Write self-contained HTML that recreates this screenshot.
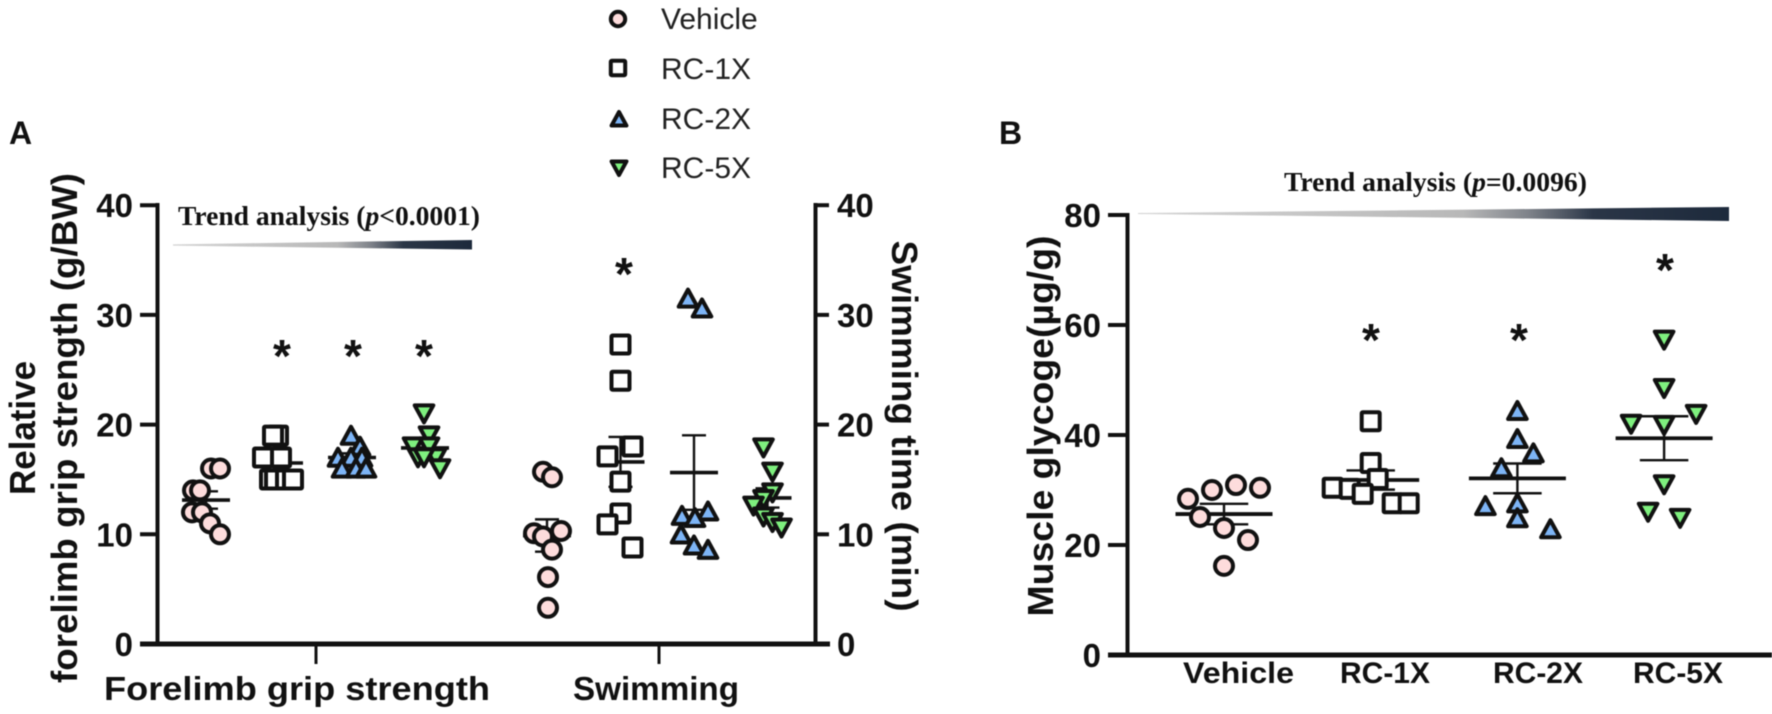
<!DOCTYPE html>
<html lang="en">
<head>
<meta charset="utf-8">
<title>Forelimb grip strength, swimming time and muscle glycogen</title>
<style>
html,body{margin:0;padding:0;background:#fff;}
svg{display:block;font-family:"Liberation Sans",Arial,sans-serif;filter:blur(0.4px);}
.bold{font-weight:bold;fill:#111;}
.trend{font-family:"Liberation Serif","Times New Roman",serif;font-weight:bold;font-size:27px;fill:#111;}
.legend{font-size:30px;fill:#222;}
</style>
</head>
<body>
<svg id="chart" xmlns="http://www.w3.org/2000/svg" width="1772" height="714" viewBox="0 0 1772 714">
  <defs>
    <linearGradient id="wedge-fill" x1="0" x2="1" y1="0" y2="0">
      <stop offset="0" stop-color="#d4d4d4"/>
      <stop offset="0.55" stop-color="#b8b8b8"/>
      <stop offset="0.66" stop-color="#7f838a"/>
      <stop offset="0.77" stop-color="#2b3647"/>
      <stop offset="1" stop-color="#1d2a3c"/>
    </linearGradient>
  </defs>

  <text class="bold" x="9" y="144" font-size="32">A</text>
  <text class="bold" x="999" y="144" font-size="32">B</text>

  <text class="bold" font-size="36" text-anchor="middle" textLength="134" lengthAdjust="spacingAndGlyphs" transform="translate(35,428) rotate(-90)">Relative</text>
  <text class="bold" font-size="36" text-anchor="middle" textLength="510" lengthAdjust="spacingAndGlyphs" transform="translate(77,428) rotate(-90)">forelimb grip strength (g/BW)</text>
  <text class="bold" font-size="36" text-anchor="middle" textLength="371" lengthAdjust="spacingAndGlyphs" transform="translate(892,426) rotate(90)">Swimming time (min)</text>
  <text class="bold" font-size="36" text-anchor="middle" textLength="381" lengthAdjust="spacingAndGlyphs" transform="translate(1053,426) rotate(-90)">Muscle glycoge(µg/g)</text>

  <text class="bold" x="104" y="700" font-size="33" textLength="386" lengthAdjust="spacingAndGlyphs">Forelimb grip strength</text>
  <text class="bold" x="573" y="700" font-size="33" textLength="166" lengthAdjust="spacingAndGlyphs">Swimming</text>

  <text class="bold" x="1183" y="683" font-size="30" textLength="111" lengthAdjust="spacingAndGlyphs">Vehicle</text>
  <text class="bold" x="1340" y="683" font-size="30" textLength="90" lengthAdjust="spacingAndGlyphs">RC-1X</text>
  <text class="bold" x="1493" y="683" font-size="30" textLength="90" lengthAdjust="spacingAndGlyphs">RC-2X</text>
  <text class="bold" x="1633" y="683" font-size="30" textLength="90" lengthAdjust="spacingAndGlyphs">RC-5X</text>

  <text class="trend" x="178" y="225" textLength="302" lengthAdjust="spacingAndGlyphs">Trend analysis (<tspan font-style="italic">p</tspan>&lt;0.0001)</text>
  <polygon points="173,244.4 173,245.6 472,249.5 472,240" fill="url(#wedge-fill)"/>
  <text class="trend" x="1284" y="191" textLength="303" lengthAdjust="spacingAndGlyphs">Trend analysis (<tspan font-style="italic">p</tspan>=0.0096)</text>
  <polygon points="1138,213 1138,214 1729,221 1729,207" fill="url(#wedge-fill)"/>

  <g id="axes"></g>
  <g id="stats"></g>
  <g id="marks"></g>

  <g class="bold" font-size="46" text-anchor="middle">
    <text x="282" y="372">*</text>
    <text x="353" y="372">*</text>
    <text x="424" y="372">*</text>
    <text x="624" y="290">*</text>
    <text x="1371" y="356">*</text>
    <text x="1519" y="356">*</text>
    <text x="1665" y="286">*</text>
  </g>

  <g id="legend">
    <text class="legend" x="661" y="29">Vehicle</text>
    <text class="legend" x="661" y="79">RC-1X</text>
    <text class="legend" x="661" y="129">RC-2X</text>
    <text class="legend" x="661" y="178">RC-5X</text>
  </g>
</svg>

<script>
// ---- data ----
const groups = ['vehicle', 'rc-1x', 'rc-2x', 'rc-5x'];

const gripTicks = [0, 10, 20, 30, 40];
const swimTicks = [0, 10, 20, 30, 40];
const glycogenTicks = [0, 20, 40, 60, 80];

const gripVehicle = [16, 16, 14, 14, 12, 12, 11, 10];
const gripRc1x = [19, 19, 17, 17, 15, 15, 15, 15];
const gripRc2x = [19, 18, 17, 17, 17, 16, 16, 16];
const gripRc5x = [21, 19, 18, 18, 17, 17, 17, 16];

const swimVehicle = [15.7, 15.2, 10.1, 9.8, 10.3, 8.6, 6.1, 3.3];
const swimRc1x = [27.3, 24, 18, 17.1, 14.8, 11.9, 10.9, 8.8];
const swimRc2x = [31.5, 30.6, 12.1, 11.7, 11.5, 10, 9, 8.6];
const swimRc5x = [17.9, 15.7, 13.8, 13.2, 12.6, 11.6, 11.1, 10.6];

const glycogenVehicle = [28.4, 30, 30.9, 30.4, 25.1, 23.1, 20.9, 16.2];
const glycogenRc1x = [42.5, 34.9, 32, 30.4, 30.2, 29.3, 27.6, 27.6];
const glycogenRc2x = [44.4, 39.3, 36.7, 34, 27.6, 27.1, 24.9, 22.9];
const glycogenRc5x = [57.3, 48.5, 43.8, 42, 41.8, 31, 26, 24.9];

// swarm lane of each point inside its group
const gripVehicleLanes = [1.25, 3.5, -3.25, -1.5, -3.5, -1, 1, 3.5];
const gripRc1xLanes = [-0.25, -1.5, -4, 0.5, -2.25, -1, 1.75, 3.5];
const gripRc2xLanes = [-0.25, 2, -3.5, -0.25, 2.5, -2.5, 1, 3.5];
const gripRc5xLanes = [-0.25, 1, -3, 1, 2.75, -1.75, -0.25, 3.75];
const swimVehicleLanes = [-1, 1.25, -3.25, -1, 3.5, 1.25, 0.25, 0.25];
const swimRc1xLanes = [0, 0, 3, -3.25, 0, 0, -3.25, 3];
const swimRc2xLanes = [-1.5, 2, 3.5, -3, 0.25, -3.25, 0, 3.5];
const swimRc5xLanes = [-1, 1.25, 1.25, -1, -3.5, -1, 1.25, 3.5];
const glycogenVehicleLanes = [-9, -3, 3, 9, -6, 0, 6, 0];
const glycogenRc1xLanes = [0, 0, 1.75, -9.5, -5.25, -2, 5.5, 9.5];
const glycogenRc2xLanes = [0, 0, 4, -4, 0, -8, 0, 8.25];
const glycogenRc5xLanes = [0, 0, 8, -8.25, 0, 0, -4, 4];

// ---- axis functions ----
function yA(v) { return 644 - v * 10.97; }
function yB(v) { return 655 - v * 5.5; }
function xGrip(i, lane) { return 206 + i * 73 + lane * 4; }
function xSwim(i, lane) { return 547 + i * 73.5 + lane * 4; }
function xGlycogen(i, lane) { return 1224 + i * 146.7 + lane * 4; }

const NS = 'http://www.w3.org/2000/svg';
const axesLayer = document.getElementById('axes');
const statsLayer = document.getElementById('stats');
const marksLayer = document.getElementById('marks');
const legendLayer = document.getElementById('legend');
const fills = { 'vehicle': '#fddcdc', 'rc-1x': '#ffffff', 'rc-2x': '#7db4f5', 'rc-5x': '#7ef07e' };

function line(parent, name, x1, y1, x2, y2, w) {
  const el = document.createElementNS(NS, 'line');
  
  
  el.setAttribute('x1', x1);
  el.setAttribute('y1', y1);
  el.setAttribute('x2', x2);
  el.setAttribute('y2', y2);
  el.setAttribute('stroke', '#111');
  el.setAttribute('stroke-width', w);
  parent.appendChild(el);
}

function tickLabel(name, x, y, anchor, txt) {
  const el = document.createElementNS(NS, 'text');
  
  
  el.setAttribute('class', 'bold');
  el.setAttribute('x', x);
  el.setAttribute('y', y);
  el.setAttribute('text-anchor', anchor);
  el.setAttribute('font-size', '33');
  el.textContent = txt;
  axesLayer.appendChild(el);
}

function marker(parent, name, group, cx, cy, k) {
  let el;
  if (group === 'vehicle') {
    el = document.createElementNS(NS, 'circle');
    el.setAttribute('cx', cx);
    el.setAttribute('cy', cy);
    el.setAttribute('r', 9 * k);
  } else if (group === 'rc-1x') {
    el = document.createElementNS(NS, 'rect');
    el.setAttribute('x', cx - 9 * k);
    el.setAttribute('y', cy - 9 * k);
    el.setAttribute('width', 18 * k);
    el.setAttribute('height', 18 * k);
    el.setAttribute('rx', 1);
  } else {
    const dir = group === 'rc-2x' ? 1 : -1;
    el = document.createElementNS(NS, 'polygon');
    el.setAttribute('points',
      cx + ',' + (cy - 8.8 * dir * k) + ' ' +
      (cx + 9.3 * k) + ',' + (cy + 8.2 * dir * k) + ' ' +
      (cx - 9.3 * k) + ',' + (cy + 8.2 * dir * k));
  }
  
  
  el.setAttribute('fill', fills[group]);
  el.setAttribute('stroke', '#111');
  el.setAttribute('stroke-width', 4);
  el.setAttribute('stroke-linejoin', 'round');
  parent.appendChild(el);
}

function meanSem(values) {
  const m = values.reduce(function (a, b) { return a + b; }, 0) / values.length;
  const ss = values.reduce(function (a, b) { return a + (b - m) * (b - m); }, 0);
  return { mean: m, sem: Math.sqrt(ss / (values.length - 1)) / Math.sqrt(values.length) };
}

function drawGroup(prefix, group, i, values, lanes, xFn, yFn, halfMean) {
  const s = meanSem(values);
  const cx = xFn(i, 0);
  const w = halfMean > 30 ? 3.8 : 3.6;
  line(statsLayer, prefix + '-' + group + '-mean', cx - halfMean, yFn(s.mean), cx + halfMean, yFn(s.mean), w);
  line(statsLayer, prefix + '-' + group + '-sem-stem', cx, yFn(s.mean + s.sem), cx, yFn(s.mean - s.sem), 2.4);
  line(statsLayer, prefix + '-' + group + '-sem-cap-upper', cx - halfMean / 2, yFn(s.mean + s.sem), cx + halfMean / 2, yFn(s.mean + s.sem), 2.4);
  line(statsLayer, prefix + '-' + group + '-sem-cap-lower', cx - halfMean / 2, yFn(s.mean - s.sem), cx + halfMean / 2, yFn(s.mean - s.sem), 2.4);
  values.forEach(function (v, j) {
    marker(marksLayer, prefix + '-' + group + '-point', group, xFn(i, lanes[j]), yFn(v), 1);
  });
}

// ---- axes ----
line(axesLayer, 'y-axis-left', 157.5, 203, 157.5, 646, 4);
gripTicks.forEach(function (t) {
  line(axesLayer, 'y-tick-left', 140, yA(t), 159, yA(t), t === 0 ? 5 : 4);
  tickLabel('y-tick-label-left', 133, yA(t) + 12, 'end', String(t));
});
line(axesLayer, 'y-axis-right', 815.5, 203, 815.5, 646, 4);
swimTicks.forEach(function (t) {
  line(axesLayer, 'y-tick-right', 814, yA(t), 829, yA(t), t === 0 ? 5 : 4);
  tickLabel('y-tick-label-right', 837, yA(t) + 12, 'start', String(t));
});
line(axesLayer, 'x-axis-a', 140, 644, 830, 644, 5);
line(axesLayer, 'x-tick-forelimb', 316, 644, 316, 664, 3);
line(axesLayer, 'x-tick-swimming', 659, 644, 659, 664, 3);

line(axesLayer, 'y-axis-glycogen', 1127.5, 213, 1127.5, 657, 4);
glycogenTicks.forEach(function (t) {
  line(axesLayer, 'y-tick-glycogen', 1108, yB(t), 1129, yB(t), t === 0 ? 5 : 4);
  tickLabel('y-tick-label-glycogen', 1101, yB(t) + 12, 'end', String(t));
});
line(axesLayer, 'x-axis-b', 1108, 655, 1772, 655, 5);

// ---- series ----
drawGroup('grip', groups[0], 0, gripVehicle, gripVehicleLanes, xGrip, yA, 24);
drawGroup('grip', groups[1], 1, gripRc1x, gripRc1xLanes, xGrip, yA, 24);
drawGroup('grip', groups[2], 2, gripRc2x, gripRc2xLanes, xGrip, yA, 24);
drawGroup('grip', groups[3], 3, gripRc5x, gripRc5xLanes, xGrip, yA, 24);

drawGroup('swim', groups[0], 0, swimVehicle, swimVehicleLanes, xSwim, yA, 24);
drawGroup('swim', groups[1], 1, swimRc1x, swimRc1xLanes, xSwim, yA, 24);
drawGroup('swim', groups[2], 2, swimRc2x, swimRc2xLanes, xSwim, yA, 24);
drawGroup('swim', groups[3], 3, swimRc5x, swimRc5xLanes, xSwim, yA, 24);

drawGroup('glycogen', groups[0], 0, glycogenVehicle, glycogenVehicleLanes, xGlycogen, yB, 48.5);
drawGroup('glycogen', groups[1], 1, glycogenRc1x, glycogenRc1xLanes, xGlycogen, yB, 48.5);
drawGroup('glycogen', groups[2], 2, glycogenRc2x, glycogenRc2xLanes, xGlycogen, yB, 48.5);
drawGroup('glycogen', groups[3], 3, glycogenRc5x, glycogenRc5xLanes, xGlycogen, yB, 48.5);

// ---- legend symbols ----
marker(legendLayer, 'legend-symbol-vehicle', 'vehicle', 618, 19, 0.8);
marker(legendLayer, 'legend-symbol-rc-1x', 'rc-1x', 618, 68, 0.8);
marker(legendLayer, 'legend-symbol-rc-2x', 'rc-2x', 619, 119, 0.8);
marker(legendLayer, 'legend-symbol-rc-5x', 'rc-5x', 619, 168, 0.8);
</script>
</body>
</html>
